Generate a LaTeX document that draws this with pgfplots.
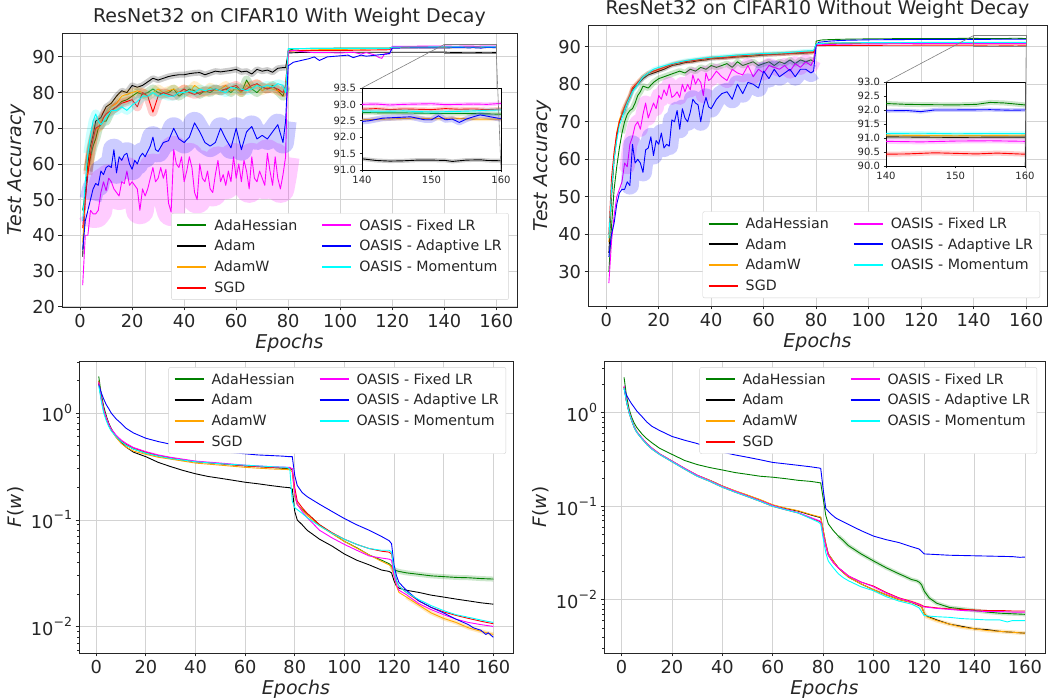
\documentclass[border=0pt]{standalone}
\usepackage{fontspec}
\setmainfont{DejaVu Sans}
\usepackage{pgfplots}
\usepackage{pgfplotstable}
\pgfplotsset{compat=1.18}
\definecolor{mgreen}{HTML}{008000}
\definecolor{morange}{HTML}{FFA500}
\definecolor{mred}{HTML}{FF0000}
\definecolor{mmag}{HTML}{FF00FF}
\definecolor{mblue}{HTML}{0000FF}
\definecolor{mcyan}{HTML}{00FFFF}
\definecolor{txtgray}{HTML}{262626}
\definecolor{gridgray}{HTML}{D3D3D3}
\definecolor{insetgray}{HTML}{808080}

% ---------------- top left: with weight decay ----------------
\pgfplotstableread{
x y
1 47
2 52
3 58
4 62
5 65
6 67
7 70
8 71
9 72
10 72
12 75
14 76
16 77.5
18 78
20 79
22 80
24 79.5
26 80
28 81
30 80
32 79.5
34 80
36 81
38 79
40 80
42 81
44 80.5
46 79.5
48 80.5
50 80
52 81
54 80.5
56 81
58 80
60 81.5
62 80
64 83.5
66 81
68 80
70 81.5
72 81
74 82
76 80.5
78 79
79 81.5
80 91.8
82 92.2
85 92.3
90 92.4
100 92.45
110 92.5
119 92.5
120 92.7
130 92.73
140 92.75
143 92.74
146 92.74
149 92.73
152 92.72
155 92.72
158 92.71
160 92.7
}\tlgreen
\pgfplotstableread{
x y
1 34
2 50
3 60
4 65
5 68
6 72
7 72.5
8 73
9 74.5
10 76
12 77
14 79
16 80.5
18 80
20 82
22 81.5
24 82
26 83
28 84
30 83.5
32 84
34 84.5
36 84.8
38 85
40 85
42 85.3
44 85.5
46 85.6
48 85
50 85.5
52 86
54 85.8
56 86
58 86.2
60 86.5
62 85.8
64 86
66 85.2
68 86.5
70 86
72 86.3
74 85.7
76 86.8
78 87
79 87
80 91.1
85 91.25
90 91.3
100 91.3
110 91.3
120 91.3
130 91.3
140 91.34
142 91.29
144 91.27
146 91.28
148 91.3
150 91.3
152 91.29
153 91.26
155 91.3
157 91.31
158 91.29
160 91.28
}\tlblack
\pgfplotstableread{
x y
1 38
2 50
3 58
4 64
5 67
6 70
7 70
8 72
9 73
10 74
12 76
14 77
16 79
18 79.5
20 80
22 80.5
24 80
26 79
28 80
30 81
32 80
34 80.5
36 81
38 80
40 81
42 80
44 82
46 81
48 80
50 81.5
52 80.5
54 81
56 82
58 80.5
60 81
62 80
64 82
66 81
68 82.5
70 80.5
72 81.5
74 81
76 80.5
78 80
79 81
80 91.5
85 91.8
90 92
100 92.1
110 92.2
119 92.2
120 92.5
130 92.55
140 92.53
143 92.55
146 92.57
148 92.58
150 92.56
153 92.58
156 92.55
160 92.55
}\tlorange
\pgfplotstableread{
x y
1 42
2 50
3 57
4 63
5 67
6 70
7 70.5
8 71
9 73
10 74
12 75
14 76
16 77
18 77.5
20 78
22 76
24 80
26 79
28 74.5
30 79
32 80
34 79.5
36 79
38 80
40 81
42 80
44 79.5
46 80
48 80.5
50 80.5
52 81
54 80.5
56 81
58 81.5
60 82
62 80.5
64 81
66 82
68 82.5
70 81.5
72 81
74 81.5
76 81
78 80
79 82
80 91.7
90 91.8
100 91.8
110 91.9
119 92
120 92.8
130 92.85
140 92.85
142 92.87
144 92.84
146 92.86
148 92.85
150 92.84
152 92.87
154 92.85
156 92.86
158 92.84
160 92.86
}\tlred
\pgfplotstableread{
x y
1 26
2 40
3 40
4 47
5 46
6 46
7 47
8 52
9 55
10 52.5
11 56
12 55
13 53
14 52
15 51
16 55
17 54.5
18 58
19 54
20 55
21 54
22 53
23 47
24 53
25 51
26 53
27 56
28 59
29 55
30 56
31 59
32 56
33 58.5
34 49
35 46.5
36 64
37 60
38 59
39 62
40 55
41 58
42 62
43 59
44 52
45 50
46 60
47 56
48 55
49 58
50 53
51 52
52 57
53 61
54 55
55 57
56 54
57 58
58 55
59 62
60 56
61 60
62 55
63 61
64 58
65 53
66 62
67 56
68 55
69 58
70 56
71 54
72 63
73 58
74 54
75 62
76 56
77 53
78 57
79 62
80 91.5
82 91.8
85 91.5
90 91.2
95 91.2
100 91.1
105 91.3
108 90.8
110 91.2
113 90.6
115 89.8
116 89.6
117 90.8
118 91
119 90.8
120 92.95
130 93.0
140 93.0
142 93.01
144 92.98
146 93.0
148 93.01
150 93.02
152 92.99
154 93.0
156 93.01
158 93.0
160 93.03
}\tlmag
\pgfplotstableread{
x y
1 36
2 44
3 47
4 50
5 53
6 54.5
7 54
8 58
9 57
10 59
11 59.5
12 59
13 64
14 57.5
15 62
16 61
17 62.5
18 63
19 60
20 58.5
21 61
22 60
23 62
24 63
25 62
26 63.5
27 65
28 67.5
29 64
30 63.5
32 66
34 66.5
36 70
38 67
40 66
42 67.5
44 71.5
46 69
48 66
50 65
52 66
54 70
56 67
58 64.5
60 70
62 64
64 69
66 70.5
68 67
70 68
72 67
74 69
76 71
78 66
79 72
80 87.5
82 88.5
85 89
88 89.5
90 90
92 89
95 90
100 90.3
103 90.5
105 89.8
108 90.5
110 90.2
115 90.6
118 90.8
119 91
120 92.45
125 92.5
130 92.52
135 92.55
140 92.48
141 92.5
143 92.58
145 92.6
147 92.62
149 92.53
150 92.53
151 92.65
152 92.53
153 92.55
154 92.45
155 92.55
156 92.62
157 92.68
158 92.64
159 92.6
160 92.56
}\tlblue
\pgfplotstableread{
x y
1 44
2 55
3 63
4 68
5 72
6 74
7 72
8 71
9 72
10 73
12 75
14 75
16 76
18 75
20 76.5
22 77.5
24 79
26 79
28 80
30 79
32 79.5
34 79
36 79
38 80
40 80
42 80.5
44 80
46 81
48 80.5
50 81
52 81
54 80.5
56 80
58 81.5
60 81
62 81
64 80.5
66 81
68 82
70 81.5
72 82
74 81.5
76 82.5
78 82
79 80
80 92.3
90 92.4
100 92.4
110 92.4
119 92.4
120 92.75
130 92.78
140 92.8
143 92.79
146 92.8
148 92.78
150 92.77
153 92.78
156 92.8
158 92.82
160 92.83
}\tlcyan

% ---------------- top right: without weight decay ----------------
\pgfplotstableread{
x y
1 30
2 42
3 52
4 58
5 63
6 67
7 70
8 72
9 73
10 73.5
11 75
12 77
13 78
14 79.5
16 79
18 80.5
20 81.5
22 82
24 82.5
26 83
28 83.5
30 83
32 84
34 83.5
36 84.5
38 84
40 85
42 84.5
44 85
46 85.5
48 84.5
50 86
52 85
54 85.5
56 86
58 85
60 85.5
62 86
64 85
66 86
68 85.5
70 86.5
72 85.5
74 86.5
76 86
78 86.5
79 86
80 91.5
82 91.8
85 91.9
90 92
100 92.1
110 92.15
120 92.2
130 92.2
140 92.23
143 92.2
146 92.19
150 92.18
153 92.2
155 92.27
157 92.25
160 92.18
}\trgreen
\pgfplotstableread{
x y
1 35
2 50
3 60
4 66
5 70
6 72
7 73
8 75
9 76.5
10 78.5
12 80
14 81.5
16 82.5
18 83
20 83.5
22 84
25 85
28 85.4
30 85.8
33 86
35 86.3
38 86.5
40 86.8
45 87
50 87.3
55 87.5
60 87.8
65 88
70 88.2
75 88.3
79 88.5
80 90.8
90 90.95
100 91.0
120 91.02
140 91.04
145 91.03
150 91.02
155 91.03
160 91.03
}\trblack
\pgfplotstableread{
x y
1 38
2 52
3 61
4 67
5 70.5
6 72.5
7 74
8 75.5
9 77
10 79
12 80.5
14 82
16 83
18 83.5
20 84
22 84.5
25 85.3
28 85.8
30 86
35 86.5
40 87
45 87.2
50 87.5
55 87.7
60 88
65 88.2
70 88.3
75 88.5
79 88.6
80 90.9
90 91.0
100 91.05
120 91.08
140 91.1
150 91.08
160 91.1
}\trorange
\pgfplotstableread{
x y
1 40
2 55
3 62
4 67
5 70
6 72
7 74
8 75.5
9 77
10 79
12 80.5
14 82
16 83
18 83.5
20 84
22 84.5
24 85
26 85.5
28 85.8
30 86
35 86.5
40 87
45 87.1
50 87.5
55 87.8
60 88
65 88
70 88.2
75 88.5
79 88.5
80 90.3
90 90.35
120 90.42
140 90.42
143 90.43
147 90.47
150 90.45
153 90.43
156 90.46
158 90.44
160 90.42
}\trred
\pgfplotstableread{
x y
1 27
2 38
3 45
4 50
5 52
6 54
7 59
8 58
9 64
10 66
11 69
12 70
13 68
14 72
15 75
16 71
17 73
18 75
19 73.5
20 77
21 76
22 78.5
23 77
24 80
25 76.5
26 77
27 78
28 76.5
29 80
30 78
31 80
32 78.5
33 82.5
34 80
35 81.5
36 80.5
37 77
38 83
39 81
40 81.5
42 83.5
44 82
46 81
48 84
50 83
52 82.5
54 85
56 82
58 84
60 83
62 85
64 84.5
66 84
68 85
70 83.5
72 85.5
74 84.5
76 86
78 85
79 86.5
80 90.5
90 90.7
120 90.85
140 90.88
145 90.86
150 90.89
155 90.9
160 90.88
}\trmag
\pgfplotstableread{
x y
1 34
2 40
3 43
4 48
5 51
6 52
7 52
8 54
9 53
10 64
11 59
12 60
13 59
14 56.5
15 62.5
16 63
17 66
18 61
19 65
20 64
21 67
22 63
23 64
24 63.5
25 70.5
26 70
27 73
28 68
29 73.5
30 71
31 70
32 72.5
33 76
34 75
35 74.5
36 70
37 74
38 76.5
39 74
40 73.5
42 76
44 77.5
46 78
48 76
50 80
52 77.5
54 80.5
56 80
58 79
60 83.5
62 81.5
64 84
66 82
68 83
70 84
72 82
74 84
76 84
78 83
79 83.5
80 90.5
81 91.2
85 91.5
90 91.7
100 91.85
110 91.9
120 91.95
130 91.98
140 91.97
143 91.98
145 91.94
147 92.0
150 92.0
155 92.01
158 91.99
160 92.0
}\trblue
\pgfplotstableread{
x y
1 39
2 52
3 60
4 65
5 69
6 71
7 73
8 75
9 76.5
10 78
12 80
14 82
16 83
18 84
20 84.5
25 85.5
30 86.3
35 86.8
40 87.2
45 87.5
50 87.8
55 88
60 88.2
65 88.3
70 88.5
75 88.8
79 89
80 90.8
85 91.0
100 91.1
120 91.15
140 91.16
145 91.17
150 91.15
155 91.16
160 91.16
}\trcyan

% ---------------- bottom left: loss with weight decay ----------------
\pgfplotstableread{
x y
1 2.2
2 1.5
3 1.15
4 0.95
5 0.8
6 0.72
8 0.6
10 0.54
12 0.5
15 0.46
20 0.42
25 0.395
30 0.375
40 0.35
50 0.335
60 0.32
70 0.31
78 0.30
79 0.295
80 0.17
81 0.14
83 0.125
85 0.115
90 0.09
95 0.075
100 0.063
105 0.055
110 0.047
115 0.042
118 0.039
119 0.037
120 0.034
122 0.033
125 0.032
130 0.031
135 0.030
140 0.0295
145 0.029
150 0.0288
155 0.0283
160 0.028
}\blgreen
\pgfplotstableread{
x y
1 2.0
2 1.4
3 1.1
4 0.92
5 0.8
6 0.7
8 0.6
10 0.53
12 0.48
15 0.43
20 0.39
25 0.345
30 0.315
35 0.29
40 0.27
45 0.255
50 0.245
55 0.235
60 0.225
65 0.218
70 0.21
75 0.203
78 0.2
79 0.195
80 0.12
81 0.1
83 0.09
85 0.08
90 0.066
95 0.057
100 0.048
105 0.042
110 0.038
115 0.034
118 0.033
119 0.032
120 0.027
121 0.024
122 0.023
125 0.022
130 0.021
135 0.0198
140 0.019
145 0.0182
150 0.0175
155 0.0168
160 0.0163
}\blblack
\pgfplotstableread{
x y
1 2.0
2 1.4
3 1.08
4 0.9
5 0.77
6 0.69
8 0.59
10 0.52
12 0.48
15 0.44
20 0.41
25 0.385
30 0.37
40 0.34
50 0.325
60 0.31
70 0.3
78 0.295
79 0.28
80 0.17
81 0.14
85 0.11
90 0.088
100 0.063
110 0.047
115 0.041
118 0.038
119 0.036
120 0.03
121 0.024
122 0.021
125 0.019
130 0.016
135 0.0135
140 0.012
145 0.011
150 0.0098
155 0.0091
160 0.0085
}\blorange
\pgfplotstableread{
x y
1 1.9
2 1.35
3 1.05
4 0.9
5 0.78
6 0.7
8 0.61
10 0.55
12 0.51
15 0.47
20 0.43
25 0.4
30 0.38
40 0.35
50 0.335
60 0.32
70 0.31
78 0.305
79 0.3
80 0.2
81 0.15
83 0.13
85 0.115
90 0.09
95 0.076
100 0.066
105 0.059
110 0.054
115 0.051
118 0.05
119 0.048
120 0.035
121 0.027
122 0.024
125 0.021
130 0.0175
135 0.0152
140 0.0138
145 0.0128
150 0.012
155 0.0113
160 0.0107
}\blred
\pgfplotstableread{
x y
1 1.95
2 1.38
3 1.07
4 0.91
5 0.79
6 0.71
8 0.62
10 0.56
12 0.52
15 0.475
20 0.435
25 0.405
30 0.385
40 0.355
50 0.34
60 0.325
70 0.315
78 0.31
79 0.3
80 0.18
81 0.14
83 0.12
85 0.105
90 0.08
95 0.068
100 0.059
105 0.052
110 0.046
115 0.044
118 0.043
119 0.042
120 0.03
121 0.025
122 0.022
125 0.02
130 0.0165
135 0.0145
140 0.013
145 0.0118
150 0.011
155 0.0105
160 0.0101
}\blmag
\pgfplotstableread{
x y
1 1.85
2 1.55
3 1.35
4 1.2
5 1.1
6 1.0
8 0.88
10 0.8
12 0.72
15 0.65
20 0.58
25 0.54
30 0.51
35 0.48
40 0.46
45 0.445
50 0.435
55 0.425
60 0.415
65 0.405
70 0.4
75 0.395
78 0.39
79 0.39
80 0.26
81 0.21
83 0.18
85 0.165
90 0.14
95 0.12
100 0.103
105 0.09
110 0.08
115 0.07
118 0.064
119 0.06
120 0.038
121 0.03
122 0.026
125 0.022
130 0.0175
135 0.0152
140 0.0135
145 0.0118
150 0.0105
152 0.0098
155 0.0093
157 0.0085
158 0.0088
160 0.008
}\blblue
\pgfplotstableread{
x y
1 1.8
2 1.3
3 1.0
4 0.85
5 0.75
6 0.68
8 0.6
10 0.54
12 0.5
15 0.46
20 0.42
25 0.395
30 0.375
40 0.35
50 0.335
60 0.325
70 0.315
77 0.31
78 0.3
79 0.15
80 0.13
81 0.125
83 0.115
85 0.105
90 0.088
95 0.075
100 0.066
105 0.059
110 0.054
115 0.052
118 0.052
119 0.05
120 0.034
121 0.027
122 0.024
125 0.021
130 0.018
135 0.0158
140 0.0142
145 0.013
150 0.0123
155 0.0116
160 0.011
}\blcyan

% ---------------- bottom right: loss without weight decay ----------------
\pgfplotstableread{
x y
1 2.4
2 1.5
3 1.1
4 0.9
5 0.78
6 0.7
8 0.6
10 0.53
12 0.48
15 0.42
20 0.36
25 0.31
30 0.28
35 0.26
40 0.245
45 0.23
50 0.22
55 0.21
60 0.205
65 0.198
70 0.19
75 0.185
78 0.18
79 0.178
80 0.12
81 0.08
82 0.065
84 0.055
86 0.048
88 0.043
90 0.038
95 0.031
100 0.026
105 0.022
110 0.019
112 0.018
115 0.0165
117 0.016
118 0.0155
119 0.0145
120 0.0125
122 0.0105
125 0.0092
130 0.0083
135 0.008
140 0.0077
145 0.0074
150 0.0072
155 0.0071
160 0.007
}\brgreen
\pgfplotstableread{
x y
1 1.8
2 1.55
3 1.38
4 1.25
5 1.15
6 1.05
8 0.92
10 0.8
12 0.72
15 0.65
20 0.56
25 0.51
30 0.47
35 0.42
40 0.38
45 0.355
50 0.335
55 0.315
60 0.295
65 0.285
70 0.275
75 0.265
78 0.258
79 0.255
80 0.15
81 0.095
83 0.083
85 0.075
90 0.064
95 0.055
100 0.048
105 0.044
110 0.041
115 0.037
118 0.035
119 0.033
120 0.031
125 0.0305
130 0.030
135 0.0298
140 0.0296
145 0.0294
150 0.0292
155 0.029
158 0.0285
160 0.0287
}\brblue
\pgfplotstableread{
x y
1 1.9
2 1.3
3 1.0
4 0.83
5 0.7
6 0.62
8 0.53
10 0.46
12 0.41
15 0.36
20 0.3
25 0.25
30 0.21
35 0.185
40 0.16
45 0.142
50 0.127
55 0.113
60 0.1
65 0.092
70 0.085
75 0.075
78 0.07
79 0.068
80 0.05
81 0.038
82 0.03
84 0.025
86 0.022
88 0.02
90 0.018
95 0.0155
100 0.014
105 0.012
110 0.0105
115 0.0096
118 0.009
120 0.0085
125 0.0082
130 0.008
135 0.0079
140 0.0078
145 0.0077
150 0.0077
155 0.0076
160 0.0076
}\brred
\pgfplotstableread{
x y
1 1.95
2 1.32
3 1.02
4 0.84
5 0.71
6 0.63
8 0.54
10 0.47
12 0.42
15 0.365
20 0.305
25 0.255
30 0.215
35 0.188
40 0.163
45 0.145
50 0.129
55 0.115
60 0.102
65 0.093
70 0.086
75 0.076
78 0.071
79 0.069
80 0.05
81 0.038
82 0.03
84 0.025
86 0.022
88 0.02
90 0.018
95 0.0155
100 0.0138
105 0.0118
110 0.0104
115 0.0095
118 0.0089
120 0.0084
125 0.0081
130 0.0079
135 0.0077
140 0.0076
145 0.0075
150 0.0075
155 0.0074
160 0.0074
}\brmag
\pgfplotstableread{
x y
1 1.9
2 1.32
3 1.02
4 0.84
5 0.71
6 0.63
8 0.54
10 0.47
12 0.42
15 0.365
20 0.305
25 0.255
30 0.215
35 0.19
40 0.165
45 0.147
50 0.132
55 0.118
60 0.104
65 0.096
70 0.09
75 0.082
78 0.078
79 0.077
80 0.055
81 0.04
82 0.031
84 0.026
86 0.022
88 0.0195
90 0.0175
95 0.0148
100 0.0128
105 0.0113
110 0.0101
115 0.0094
118 0.0088
119 0.0085
120 0.0072
121 0.0066
125 0.006
130 0.0055
135 0.0051
140 0.0049
145 0.0047
150 0.0046
155 0.0045
160 0.0044
}\brorange
\pgfplotstableread{
x y
1 1.9
2 1.32
3 1.02
4 0.84
5 0.71
6 0.63
8 0.54
10 0.47
12 0.42
15 0.365
20 0.305
25 0.255
30 0.215
35 0.19
40 0.165
45 0.146
50 0.131
55 0.117
60 0.103
65 0.095
70 0.089
75 0.081
78 0.077
79 0.076
80 0.055
81 0.04
82 0.031
84 0.026
86 0.022
88 0.0195
90 0.0175
95 0.0148
100 0.0128
105 0.0113
110 0.0101
115 0.0094
118 0.0087
119 0.0085
120 0.0072
121 0.0067
125 0.0061
130 0.0055
135 0.0052
140 0.0049
145 0.0048
150 0.0046
155 0.0045
160 0.0044
}\brblack
\pgfplotstableread{
x y
1 1.85
2 1.3
3 1.0
4 0.83
5 0.7
6 0.62
8 0.53
10 0.46
12 0.41
15 0.36
20 0.3
25 0.25
30 0.21
35 0.185
40 0.16
45 0.142
50 0.127
55 0.113
60 0.1
65 0.092
70 0.085
75 0.074
78 0.068
79 0.065
80 0.045
81 0.032
82 0.026
84 0.022
86 0.019
88 0.0172
90 0.016
95 0.0138
100 0.0125
105 0.0108
110 0.0097
115 0.009
118 0.0082
120 0.0068
122 0.0067
125 0.0066
130 0.0065
135 0.0063
140 0.0062
145 0.0061
150 0.0061
153 0.0058
155 0.006
160 0.006
}\brcyan

\newcommand{\ser}[4][0]{%
  \addplot[#2, opacity=0.2, line width=#3, line join=round, forget plot, restrict x to domain=#1:79.5] table {#4};
  \addplot[#2, line width=0.9pt, line join=round, forget plot] table {#4};}
\newcommand{\serF}[3]{%
  \addplot[#1, opacity=0.2, line width=#2, line join=round, forget plot] table {#3};
  \addplot[#1, line width=0.9pt, line join=round, forget plot] table {#3};}
\newcommand{\legs}{%
  \addlegendimage{draw=mgreen}\addlegendentry{AdaHessian}
  \addlegendimage{draw=mmag}\addlegendentry{OASIS - Fixed LR}
  \addlegendimage{draw=black}\addlegendentry{Adam}
  \addlegendimage{draw=mblue}\addlegendentry{OASIS - Adaptive LR}
  \addlegendimage{draw=morange}\addlegendentry{AdamW}
  \addlegendimage{draw=mcyan}\addlegendentry{OASIS - Momentum}
  \addlegendimage{draw=mred}\addlegendentry{SGD}}
\newcommand{\tickfont}{\fontsize{17.8}{20}\selectfont}
\newcommand{\insetfont}{\fontsize{10}{12}\selectfont}
\newcommand{\tp}[1]{10\raisebox{0.5em}{\fontsize{12.5}{14}\selectfont #1}}

\pgfplotsset{
  base/.style={
    scale only axis,
    axis line style={txtgray, line width=0.9pt},
    tick align=outside,
    major tick length=3.5pt,
    minor tick length=2pt,
    every tick/.style={txtgray, line width=0.8pt},
    tick pos=left,
  },
  mainax/.style={base,
    xticklabel style={font=\tickfont, text=txtgray},
    yticklabel style={font=\tickfont, text=txtgray},
    grid=major, major grid style={gridgray, line width=0.8pt},
    xmin=-6.95, xmax=167.95, xtick={0,20,...,160},
    xticklabels={0,20,40,60,80,100,120,140,160},
    xlabel={Epochs},
    label style={font=\fontsize{19}{22}\selectfont\itshape, text=txtgray},
    title style={font=\fontsize{19}{22}\selectfont, text=txtgray, yshift=-3pt},
    legend columns=2,
    legend cell align=left,
    legend image code/.code={\draw[line width=2pt] (0pt,0pt) -- (29pt,0pt);},
    legend style={font=\fontsize{14.2}{17}\selectfont, text=txtgray, draw=gridgray, fill=white,
      rounded corners=2pt, inner xsep=5pt, inner ysep=4pt, row sep=4.5pt,
      /tikz/every odd column/.append style={column sep=5pt},
      /tikz/every even column/.append style={column sep=22pt}},
  },
  insetax/.style={base,
    xticklabel style={font=\insetfont, text=txtgray},
    yticklabel style={font=\insetfont, text=txtgray},
    axis background/.style={fill=white},
    axis line style={black, line width=0.8pt},
    major tick length=2.5pt,
    xtick={140,150,160}, xticklabels={140,150,160},
  },
}

\begin{document}
\begin{tikzpicture}
\useasboundingbox (0,0) rectangle (1048pt,700pt);

% ===== top left =====
\begin{axis}[mainax, name=tl, at={(62pt,393pt)}, anchor=south west, width=455pt, height=274pt,
  ymin=19.9, ymax=96.7, ytick={20,30,...,90}, yticklabels={20,30,40,50,60,70,80,90},
  ylabel={Test Accuracy},
  title={ResNet32 on CIFAR10 With Weight Decay},
  legend style={at={(0.982,0.026)}, anchor=south east}]
\ser[3]{mgreen}{9pt}{\tlgreen}
\ser[3]{black}{6pt}{\tlblack}
\ser[3]{morange}{9pt}{\tlorange}
\ser[3]{mred}{9pt}{\tlred}
\ser[4]{mmag}{28pt}{\tlmag}
\ser[4]{mblue}{22pt}{\tlblue}
\ser[3]{mcyan}{9pt}{\tlcyan}
\draw[insetgray, line width=0.6pt] (axis cs:140,91) rectangle (axis cs:160,93.5);
\coordinate (tlA) at (axis cs:140,93.5);
\coordinate (tlB) at (axis cs:160,91);
\legs
\end{axis}
\begin{axis}[insetax, name=tlin, at={(362pt,530pt)}, anchor=south west, width=139pt, height=82pt,
  xmin=140, xmax=160, ymin=91, ymax=93.5, ytick={91,91.5,92,92.5,93,93.5},
  yticklabels={91.0,91.5,92.0,92.5,93.0,93.5}]
\serF{mgreen}{4pt}{\tlgreen}
\serF{black}{4pt}{\tlblack}
\serF{morange}{4pt}{\tlorange}
\serF{mred}{4pt}{\tlred}
\serF{mmag}{4pt}{\tlmag}
\serF{mblue}{6pt}{\tlblue}
\serF{mcyan}{4pt}{\tlcyan}
\end{axis}
\draw[insetgray, line width=0.6pt] (tlA) -- (tlin.north west);
\draw[insetgray, line width=0.6pt] (tlB) -- (tlin.south east);

% ===== top right =====
\begin{axis}[mainax, name=tr, at={(588pt,394pt)}, anchor=south west, width=459pt, height=281pt,
  ymin=20.9, ymax=95.8, ytick={30,40,...,90}, yticklabels={30,40,50,60,70,80,90},
  ylabel={Test Accuracy},
  title={ResNet32 on CIFAR10 Without Weight Decay},
  legend style={at={(0.985,0.028)}, anchor=south east}]
\ser[6]{mgreen}{6pt}{\trgreen}
\ser[6]{black}{4pt}{\trblack}
\ser[6]{morange}{4pt}{\trorange}
\ser[6]{mred}{4pt}{\trred}
\ser[7]{mmag}{15pt}{\trmag}
\ser[8]{mblue}{18pt}{\trblue}
\ser[6]{mcyan}{4pt}{\trcyan}
\draw[insetgray, line width=0.6pt] (axis cs:140,90) rectangle (axis cs:160,93);
\coordinate (trA) at (axis cs:140,93);
\coordinate (trB) at (axis cs:160,90);
\legs
\end{axis}
\begin{axis}[insetax, name=trin, at={(886pt,534pt)}, anchor=south west, width=139pt, height=84pt,
  xmin=140, xmax=160, ymin=90, ymax=93, ytick={90,90.5,91,91.5,92,92.5,93},
  yticklabels={90.0,90.5,91.0,91.5,92.0,92.5,93.0}]
\serF{mgreen}{5pt}{\trgreen}
\serF{black}{4pt}{\trblack}
\serF{morange}{4pt}{\trorange}
\serF{mred}{5pt}{\trred}
\serF{mmag}{5pt}{\trmag}
\serF{mblue}{4pt}{\trblue}
\serF{mcyan}{4pt}{\trcyan}
\end{axis}
\draw[insetgray, line width=0.6pt] (trA) -- (trin.north west);
\draw[insetgray, line width=0.6pt] (trB) -- (trin.south east);

% ===== bottom left =====
\begin{axis}[mainax, name=bl, at={(79pt,47pt)}, anchor=south west, width=434pt, height=292pt,
  ymode=log, ymin=0.0057, ymax=3.06, ytick={0.01,0.1,1},
  yticklabels={\tp{−2},\tp{−1},\tp{0}},
  minor ytick={0.006,0.007,0.008,0.009,0.02,0.03,0.04,0.05,0.06,0.07,0.08,0.09,0.2,0.3,0.4,0.5,0.6,0.7,0.8,0.9,2,3},
  ylabel={\textit{F}(\textit{w})}, ylabel style={font=\fontsize{18.5}{22}\selectfont},
  legend style={at={(0.984,0.979)}, anchor=north east}]
\addplot[mgreen, opacity=0.2, line width=5pt, forget plot, restrict x to domain=119:161] table {\blgreen};
\addplot[mgreen, line width=0.9pt, forget plot] table {\blgreen};
\addplot[black, line width=0.9pt, forget plot] table {\blblack};
\addplot[morange, opacity=0.25, line width=4pt, forget plot, restrict x to domain=125:161] table {\blorange};
\addplot[morange, line width=0.9pt, forget plot] table {\blorange};
\addplot[mred, line width=0.9pt, forget plot] table {\blred};
\addplot[mmag, line width=0.9pt, forget plot] table {\blmag};
\addplot[mblue, line width=0.9pt, forget plot] table {\blblue};
\addplot[mcyan, line width=0.9pt, forget plot] table {\blcyan};
\legs
\end{axis}

% ===== bottom right =====
\begin{axis}[mainax, name=br, at={(604pt,47pt)}, anchor=south west, width=441pt, height=292pt,
  ymode=log, ymin=0.0027, ymax=3.59, ytick={0.01,0.1,1},
  yticklabels={\tp{−2},\tp{−1},\tp{0}},
  minor ytick={0.003,0.004,0.005,0.006,0.007,0.008,0.009,0.02,0.03,0.04,0.05,0.06,0.07,0.08,0.09,0.2,0.3,0.4,0.5,0.6,0.7,0.8,0.9,2,3},
  ylabel={\textit{F}(\textit{w})}, ylabel style={font=\fontsize{18.5}{22}\selectfont},
  legend style={at={(0.982,0.979)}, anchor=north east}]
\addplot[mgreen, opacity=0.2, line width=4pt, forget plot, restrict x to domain=85:161] table {\brgreen};
\addplot[mgreen, line width=0.9pt, forget plot] table {\brgreen};
\addplot[morange, opacity=0.25, line width=4pt, forget plot, restrict x to domain=100:161] table {\brorange};
\addplot[black, line width=0.9pt, forget plot] table {\brblack};
\addplot[morange, line width=0.9pt, forget plot] table {\brorange};
\addplot[mred, line width=0.9pt, forget plot] table {\brred};
\addplot[mmag, line width=0.9pt, forget plot] table {\brmag};
\addplot[mblue, line width=0.9pt, forget plot] table {\brblue};
\addplot[mcyan, line width=0.9pt, forget plot] table {\brcyan};
\legs
\end{axis}
\end{tikzpicture}
\end{document}
